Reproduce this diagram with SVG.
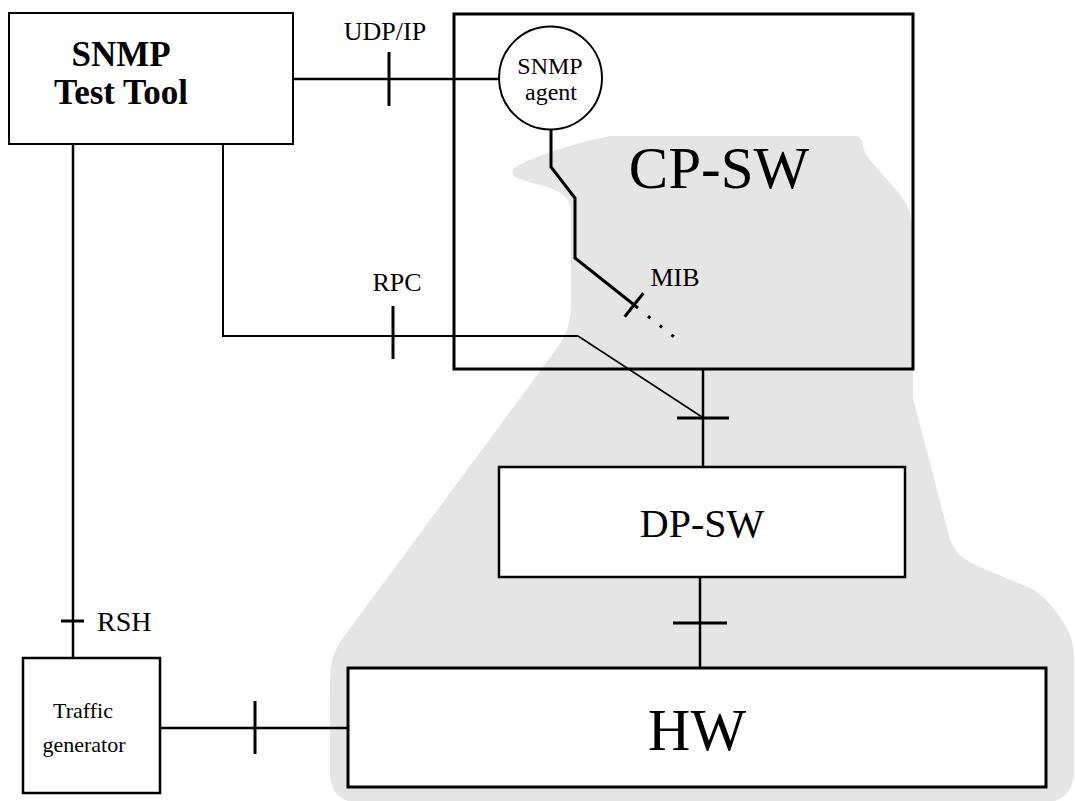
<svg xmlns="http://www.w3.org/2000/svg" width="1075" height="801" viewBox="0 0 1075 801">
<style>
text{font-family:"Liberation Serif","Times New Roman",serif;fill:#000}
.box{fill:#fff;stroke:#000}
.ln{fill:none;stroke:#000;stroke-width:2.5}
.tk{fill:none;stroke:#000;stroke-width:3}
.thin{fill:none;stroke:#000;stroke-width:1.5}
</style>
<g id="shade">
<path d="M513 172 C508 166 560 146 610 136 L856 136 Q862 136 863 146 C864 160 900 188 908 208 Q913 222 913 240 L913 398 L949 536 C954 553 963 560 985 569 L1030 588 C1045 595 1060 615 1068 630 Q1074 642 1074 660 L1074 770 Q1074 803 1040 803 L362 803 Q330 803 330 772 L330 690 C330 660 333 652 345 635 L557 348 C568 332 571 322 571 300 L571 212 C571 196 560 191 540 185 C522 180 510 177 513 172 Z" fill="#e5e5e5"/>
</g>
<g id="connectors">
<line class="ln" x1="293" y1="79" x2="499" y2="79"/>
<line class="tk" x1="389" y1="52" x2="389" y2="106"/>
<polyline class="tk" points="551,128 551,167 575,198 575,258 638,308"/>
<line class="tk" x1="624.7" y1="316.7" x2="643.3" y2="293.3"/>
<line class="tk" x1="648" y1="316.2" x2="675" y2="337.6" stroke-dasharray="3 12"/>
<polyline class="ln" style="stroke-width:2" points="223,144 223,336 578,336"/>
<line class="thin" x1="578" y1="336" x2="702" y2="417"/>
<line class="tk" x1="393" y1="306" x2="393" y2="359"/>
<line class="ln" x1="703" y1="369" x2="703" y2="467"/>
<line class="tk" x1="677" y1="418" x2="729" y2="418"/>
<line class="ln" x1="700" y1="577" x2="700" y2="668"/>
<line class="tk" x1="673" y1="623" x2="727" y2="623"/>
<line class="ln" x1="73" y1="144" x2="73" y2="658"/>
<line class="tk" x1="61" y1="621" x2="84" y2="621"/>
<line class="ln" x1="160" y1="728" x2="348" y2="728"/>
<line class="tk" x1="255" y1="701" x2="255" y2="754"/>
<text x="385" y="40" font-size="26" text-anchor="middle">UDP/IP</text>
<text x="397" y="291" font-size="26" text-anchor="middle">RPC</text>
<text x="675" y="286" font-size="26" text-anchor="middle">MIB</text>
<text x="97" y="631" font-size="28">RSH</text>
</g>
<g id="test-tool">
<rect class="box" x="9" y="13" width="284" height="131" stroke-width="2"/>
<text x="121" y="66" font-size="35" font-weight="bold" text-anchor="middle">SNMP</text>
<text x="121" y="104" font-size="35" font-weight="bold" text-anchor="middle">Test Tool</text>
</g>
<g id="cp-sw">
<rect x="454" y="14" width="459" height="355" fill="none" stroke="#000" stroke-width="3"/>
<text x="719" y="188" font-size="59" text-anchor="middle">CP-SW</text>
</g>
<g id="snmp-agent">
<circle class="box" cx="550.5" cy="78" r="51.5" stroke-width="2"/>
<text x="550" y="74" font-size="24" text-anchor="middle">SNMP</text>
<text x="551" y="100" font-size="24" text-anchor="middle">agent</text>
</g>
<g id="dp-sw">
<rect class="box" x="499" y="467" width="406" height="110" stroke-width="2.5"/>
<text x="702" y="537" font-size="40" text-anchor="middle">DP-SW</text>
</g>
<g id="hw">
<rect class="box" x="348" y="668" width="698" height="119" stroke-width="3"/>
<text x="697" y="750" font-size="59" text-anchor="middle">HW</text>
</g>
<g id="traffic-generator">
<rect class="box" x="23" y="658" width="137" height="135" stroke-width="2.5"/>
<text x="83" y="718" font-size="22" text-anchor="middle">Traffic</text>
<text x="84" y="752" font-size="22" text-anchor="middle">generator</text>
</g>
</svg>
